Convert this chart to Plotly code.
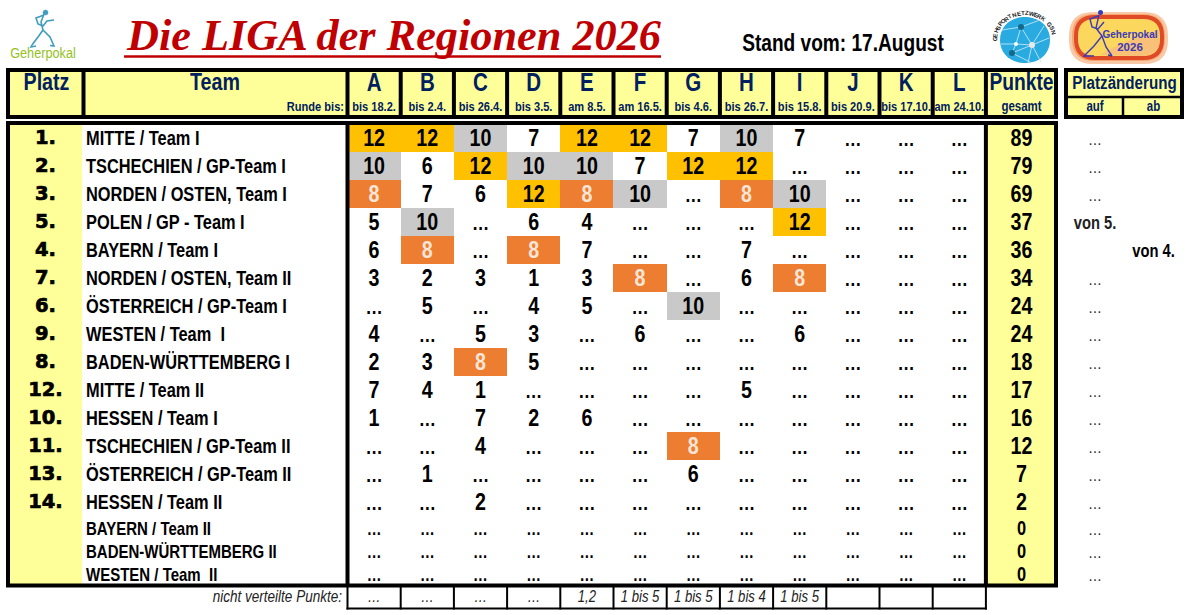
import math
import plotly.graph_objects as go

# ---------- DATA ----------
places = ["1.", "2.", "3.", "5.", "4.", "7.", "6.", "9.", "8.", "12.", "10.", "11.", "13.", "14.", "", "", ""]
teams = ["MITTE / Team I", "TSCHECHIEN / GP-Team I", "NORDEN / OSTEN, Team I", "POLEN / GP - Team I",
         "BAYERN / Team I", "NORDEN / OSTEN, Team II", "ÖSTERREICH / GP-Team I", "WESTEN / Team  I",
         "BADEN-WÜRTTEMBERG I", "MITTE / Team II", "HESSEN / Team I", "TSCHECHIEN / GP-Team II",
         "ÖSTERREICH / GP-Team II", "HESSEN / Team II", "BAYERN / Team II", "BADEN-WÜRTTEMBERG II",
         "WESTEN / Team  II"]
rounds = ["A", "B", "C", "D", "E", "F", "G", "H", "I", "J", "K", "L"]
round_dates = ["bis 18.2.", "bis 2.4.", "bis 26.4.", "bis 3.5.", "am 8.5.", "am 16.5.", "bis 4.6.",
               "bis 26.7.", "bis 15.8.", "bis 20.9.", "bis 17.10.", "am 24.10."]
_ = None
scores = [
    [12, 12, 10, 7, 12, 12, 7, 10, 7, _, _, _],
    [10, 6, 12, 10, 10, 7, 12, 12, _, _, _, _],
    [8, 7, 6, 12, 8, 10, _, 8, 10, _, _, _],
    [5, 10, _, 6, 4, _, _, _, 12, _, _, _],
    [6, 8, _, 8, 7, _, _, 7, _, _, _, _],
    [3, 2, 3, 1, 3, 8, _, 6, 8, _, _, _],
    [_, 5, _, 4, 5, _, 10, _, _, _, _, _],
    [4, _, 5, 3, _, 6, _, _, 6, _, _, _],
    [2, 3, 8, 5, _, _, _, _, _, _, _, _],
    [7, 4, 1, _, _, _, _, 5, _, _, _, _],
    [1, _, 7, 2, 6, _, _, _, _, _, _, _],
    [_, _, 4, _, _, _, 8, _, _, _, _, _],
    [_, 1, _, _, _, _, 6, _, _, _, _, _],
    [_, _, 2, _, _, _, _, _, _, _, _, _],
    [_] * 12,
    [_] * 12,
    [_] * 12,
]
points = [89, 79, 69, 37, 36, 34, 24, 24, 18, 17, 16, 12, 7, 2, 0, 0, 0]
change_up = ["…", "…", "…", "von 5.", "", "…", "…", "…", "…", "…", "…", "…", "…", "…", "…", "…", "…"]
change_down = ["", "", "", "", "von 4.", "", "", "", "", "", "", "", "", "", "", "", ""]
undistributed = ["…", "…", "…", "…", "1,2", "1 bis 5", "1 bis 5", "1 bis 4", "1 bis 5", "", "", ""]
highlight_values = [8, 10, 12]
highlight_colors = ["#ED7D31", "#C9C9C9", "#FFC000"]

TITLE = "Die LIGA der Regionen 2026"
STAND = "Stand vom: 17.August"
ARC_TEXT = "GEHSPORTNETZWERK GSN"

# ---------- GEOMETRY / STYLE ----------
W, H = 1190, 615
NARROW = "Arial Narrow, Liberation Sans"
NAVY = "#002060"
YELLOW = "#FFFF99"
TEXT_DY = 3
COL0, COLW = 347.5, 53.2
col_edges = [COL0 + COLW * i for i in range(13)]
col_centers = [COL0 + COLW * (i + .5) for i in range(12)]
row_edges = [123.5 + 28 * i for i in range(15)] + [540, 563, 585]
row_centers = [137.5 + 28 * i for i in range(14)] + [528, 551, 574]
n_main = 14

fig = go.Figure()
shapes = []


def rect(x0, y0, x1, y1, fill, layer="below"):
    shapes.append(dict(type="rect", x0=x0, y0=y0, x1=x1, y1=y1, fillcolor=fill,
                       line_width=0, layer=layer))


def line(x0, y0, x1, y1, color="black", width=4, layer="above"):
    shapes.append(dict(type="line", x0=x0, y0=y0, x1=x1, y1=y1,
                       line=dict(color=color, width=width), layer=layer))


def path(d, fill=None, color=None, width=0, layer="below"):
    s = dict(type="path", path=d, layer=layer, line=dict(width=width))
    if fill:
        s["fillcolor"] = fill
    if color:
        s["line"]["color"] = color
    shapes.append(s)


def rrect(x0, y0, x1, y1, r):
    return (f"M {x0+r},{y0} L {x1-r},{y0} Q {x1},{y0} {x1},{y0+r} L {x1},{y1-r} Q {x1},{y1} {x1-r},{y1} "
            f"L {x0+r},{y1} Q {x0},{y1} {x0},{y1-r} L {x0},{y0+r} Q {x0},{y0} {x0+r},{y0} Z")


def text(xs, ys, labels, size, color="black", family=NARROW, pos="middle center", bold=True, italic=False):
    fig.add_trace(go.Scatter(
        x=xs, y=[y + TEXT_DY for y in ys], text=labels, mode="text", textposition=pos, hoverinfo="skip",
        showlegend=False, cliponaxis=False,
        textfont=dict(size=size, color=color, family=family,
                      weight="bold" if bold else "normal", style="italic" if italic else "normal")))


# yellow fills
rect(10, 72, 83, 115, YELLOW)
rect(84, 72, 346, 115, YELLOW)
for i in range(12):
    rect(col_edges[i], 72, col_edges[i + 1], 115, YELLOW)
rect(986, 72, 1056, 115, YELLOW)
rect(10, 125, 82, 584, YELLOW)
rect(986, 125, 1056, 584, YELLOW)
rect(1066, 72, 1182, 115, YELLOW)

# highlighted score cells via heatmap
z = [[v if v in highlight_values else None for v in row] for row in scores[:n_main]]
lo, hi = min(highlight_values), max(highlight_values)
cs = []
for i, c in enumerate(highlight_colors):
    cs += [[i / 3, c], [(i + 1) / 3, c]]
fig.add_trace(go.Heatmap(x=col_edges, y=row_edges[:n_main + 1], z=z, colorscale=cs,
                         zmin=lo - 1, zmax=hi + 1, showscale=False, hoverinfo="skip"))

# frames
for (x0, y0, x1, y1) in [(8, 70, 1056, 117), (8, 123, 1056, 585.5), (1066, 70, 1182, 117)]:
    shapes.append(dict(type="rect", x0=x0, y0=y0, x1=x1, y1=y1, line=dict(color="black", width=4), layer="above"))
line(83.5, 70, 83.5, 117)
for xe in col_edges:
    line(xe, 70, xe, 117)
line(COL0, 123, COL0, 586, width=4)
line(col_edges[-1], 123, col_edges[-1], 586, width=4)
line(1066, 97, 1182, 97, width=2.5)
line(1123, 97, 1123, 116, width=2.5)
# footer grid
line(COL0 - 1, 608.5, col_edges[-1] + 1, 608.5, width=2)
for xe in col_edges:
    line(xe, 586, xe, 609.5, width=2)

# header text
text([46.5, 215], [81.5, 81.5], ["Platz", "Team"], 24, NAVY)
text(col_centers, [81.5] * 12, rounds, 25, NAVY)
text([1021.5], [81.5], ["Punkte"], 23.5, NAVY)
text([1124.5], [81.5], ["Platzänderung"], 18.5, NAVY)
text([344], [105], ["Runde bis:"], 13.5, NAVY, pos="middle left")
text(col_centers, [105] * 12, round_dates, 13.5, NAVY)
text([1021.5, 1095, 1153.5], [105, 105, 105], ["gesamt", "auf", "ab"], 14, NAVY)

# body text
text([45.5] * n_main, [y - 1 for y in row_centers[:n_main]], places[:n_main], 19.5, "black", "DejaVu Sans")
text([86] * n_main, row_centers[:n_main], teams[:n_main], 20, pos="middle right")
text([86] * 3, [y - 1 for y in row_centers[n_main:]], teams[n_main:], 18.3, pos="middle right")

xs, ys, ls, cc = [], [], [], []
dx, dy, dl = [], [], []
for r, row in enumerate(scores):
    for c, v in enumerate(row):
        if v is None:
            dx.append(col_centers[c]); dy.append(row_centers[r]); dl.append("…")
        else:
            xs.append(col_centers[c]); ys.append(row_centers[r]); ls.append(str(v))
            cc.append("#FBE5D6" if v == 8 else "black")
text(xs, ys, ls, 24, cc)
text(dx[:-36], dy[:-36], dl[:-36], 21)
text(dx[-36:], dy[-36:], dl[-36:], 18)
text([1021.5] * n_main, row_centers[:n_main], [str(p) for p in points[:n_main]], 24)
text([1021.5] * 3, [y - .5 for y in row_centers[n_main:]], [str(p) for p in points[n_main:]], 20)

up_dots = [row_centers[i] for i, v in enumerate(change_up) if v == "…"]
text([1095] * len(up_dots), up_dots, ["…"] * len(up_dots), 17, "#222222", bold=False)
up_text = [(row_centers[i], v) for i, v in enumerate(change_up) if v and v != "…"]
text([1095] * len(up_text), [p[0] for p in up_text], [p[1] for p in up_text], 18, "#222222")
dn_y = [row_centers[i] for i, v in enumerate(change_down) if v]
text([1153.5] * len(dn_y), dn_y, [v for v in change_down if v], 18)

# footer
text([342], [595], ["nicht verteilte Punkte:"], 16.5, "#222222", pos="middle left", bold=False, italic=True)
text(col_centers, [595] * 12, undistributed, 16, "#222222", bold=False, italic=True)

# top row: title
text([394], [36], [TITLE], 44.3, "#C00000", "Liberation Serif", bold=True, italic=True)
line(124, 56.5, 661, 56.5, "#C00000", 2.5)
text([843], [42], [STAND], 23.3)

# left logo
TEAL = "#3E9CBF"
for d in ["M 44,14 L 41,22 L 43,30 L 38,37 L 32,45", "M 43,30 L 50,37 L 54,46 L 50,45.5",
          "M 44,15 L 36,18 L 38,24 L 43,26 L 47,21 L 54,20", "M 32,45 L 31,47 L 36,46"]:
    path(d, color=TEAL, width=1.6)
path(rrect(43, 10, 48, 15, 2.5), fill=TEAL, color=TEAL, width=0.5)
text([43], [51], ["Geherpokal"], 15.5, "#95C11F", bold=False)

# network logo
path("M 1000,40 C 1000,26 1011,17 1025,17 C 1039,17 1050,26 1050,40 C 1050,54 1039,63 1025,63 C 1011,63 1000,54 1000,40 Z",
     fill="#29ABE2")
for d in ["M 1021,27 L 1032,45 L 1041,62", "M 1021,27 L 1016,44 L 1012,53", "M 1002,30 L 1021,27 L 1040,20",
          "M 1001,44 L 1016,44 L 1032,45 L 1049,38", "M 1012,53 L 1032,45 L 1044,26", "M 1012,53 L 1030,62", "M 1032,45 L 1028,63"]:
    path(d, color="#BFE6F5", width=0.9)
for cx, cy, rr, col in [(1021, 27, 3, "#14688A"), (1012, 53, 3, "#14688A"), (1016, 44, 2, "white"), (1032, 45, 3, "#E8E8E8")]:
    path(f"M {cx-rr},{cy} Q {cx-rr},{cy-rr} {cx},{cy-rr} Q {cx+rr},{cy-rr} {cx+rr},{cy} Q {cx+rr},{cy+rr} {cx},{cy+rr} Q {cx-rr},{cy+rr} {cx-rr},{cy} Z", fill=col)

n = len(ARC_TEXT)
start, end = -88, 72
for i, ch in enumerate(ARC_TEXT):
    ang = start + (end - start) * i / (n - 1)
    a = math.radians(ang)
    fig.add_annotation(x=1025 + 30 * math.sin(a), y=40 - 27 * math.cos(a), text=ch, showarrow=False,
                       textangle=ang, font=dict(size=6, color="#222222", family="Liberation Sans", weight="bold"))

# Geherpokal badge
path(rrect(1069, 12, 1168, 64, 24), fill="#F8C9A6")
path(rrect(1072, 14, 1165, 61, 22), fill="#F5A66E")
path(rrect(1076, 17, 1162, 58, 19), fill="#FBD85D", color="#E04A27", width=4)
path("M 1100,55 Q 1125,40 1159,30 L 1159,46 Q 1155,56 1140,56 Z", fill="#F8C078")
VIOLET = "#3B3BB5"
for d in ["M 1099,15 L 1096,28 L 1102,36 L 1094,46 L 1086,54", "M 1102,36 L 1106,47 L 1112,56",
          "M 1098,16 L 1090,19 L 1092,27 L 1098,29 L 1104,22", "M 1086,54 L 1084,56 L 1094,56", "M 1112,56 L 1108,55"]:
    path(d, color=VIOLET, width=1.4)
path(rrect(1098, 10, 1103, 15, 2.5), fill=VIOLET)
text([1130], [32], ["Geherpokal"], 10, VIOLET, "Liberation Sans")
text([1130], [45.5], ["2026"], 11.5, VIOLET, "Liberation Sans")

fig.update_layout(
    width=W, height=H, margin=dict(l=0, r=0, t=0, b=0), showlegend=False,
    paper_bgcolor="white", plot_bgcolor="white", shapes=shapes,
    xaxis=dict(range=[0, W], visible=False, fixedrange=True),
    yaxis=dict(range=[H, 0], visible=False, fixedrange=True),
)

# Arial Narrow is not installed: condense the Liberation Sans text to its 82 % proportions,
# and thicken the rank numbers towards the Arial Black look of the original.
POST = """
document.body.style.margin='0';document.documentElement.style.overflow='hidden';
var gd=document.getElementById('{plot_id}');
function restyle(){
  gd.querySelectorAll('.textpoint text').forEach(function(t){
    var fam=t.style.fontFamily||'';
    if(fam.indexOf('DejaVu Sans')>=0){t.style.stroke='black';t.style.strokeWidth='0.7px';}
    if(fam.indexOf('Narrow')<0) return;
    var x=parseFloat(t.getAttribute('x'));
    t.setAttribute('transform','translate('+x+' 0) scale(0.82 1) translate('+(-x)+' 0)');
  });
}
restyle(); gd.on('plotly_afterplot',restyle);
"""
fig.write_html("out.html", config=dict(displayModeBar=False), post_script=POST)
